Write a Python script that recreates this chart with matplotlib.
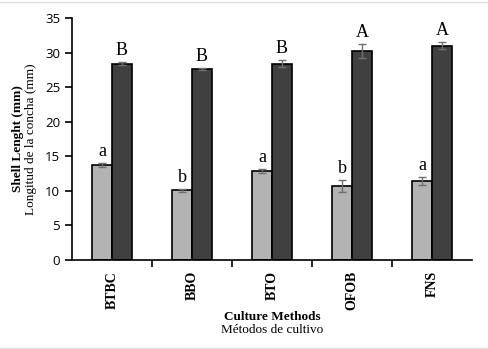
import matplotlib.pyplot as plt
import numpy as np
from matplotlib.lines import Line2D

# datos
methods = ['BTBC', 'BBO', 'BTO', 'OFOB', 'FNS']
light_vals = [13.8, 10.1, 12.9, 10.7, 11.4]
light_err = [0.3, 0.2, 0.3, 0.9, 0.6]
dark_vals = [28.4, 27.6, 28.4, 30.2, 31.0]
dark_err = [0.2, 0.15, 0.5, 1.0, 0.5]
light_letters = ['a', 'b', 'a', 'b', 'a']
dark_letters = ['B', 'B', 'B', 'A', 'A']

serif = 'Liberation Serif'
sans = 'Open Sans'

fig = plt.figure(figsize=(4.88, 3.49), dpi=100)
ax = fig.add_axes([72/488, 1 - 260/349, 400/488, 242/349])

x = np.arange(len(methods))
w = 0.25
ax.bar(x - w/2, light_vals, w, color='#b3b3b3', edgecolor='black', linewidth=1.2)
ax.bar(x + w/2, dark_vals, w, color='#404040', edgecolor='black', linewidth=1.2)
ax.errorbar(x - w/2, light_vals, yerr=light_err, fmt='none', ecolor='#707070',
            elinewidth=1, capsize=3, capthick=1)
ax.errorbar(x + w/2, dark_vals, yerr=dark_err, fmt='none', ecolor='#707070',
            elinewidth=1, capsize=3, capthick=1)

# letras
for i in range(len(methods)):
    ax.annotate(light_letters[i], (x[i] - w/2, light_vals[i] + light_err[i]),
                xytext=(0, 2), textcoords='offset points', ha='center', va='bottom',
                fontsize=13, family=serif)
    ax.annotate(dark_letters[i], (x[i] + w/2, dark_vals[i] + dark_err[i]),
                xytext=(0, 2), textcoords='offset points', ha='center', va='bottom',
                fontsize=13, family=serif)

ax.set_xlim(-0.5, len(methods) - 0.5)
ax.set_ylim(0, 35)
ax.set_yticks(range(0, 36, 5))
ax.set_xticks(x)
ax.set_xticklabels(methods, rotation=90, fontsize=10, family=serif, fontweight='bold')
ax.set_xticks(np.arange(0.5, len(methods) - 0.5, 1), minor=True)
ax.tick_params(axis='x', which='major', length=0, pad=8)
ax.tick_params(axis='x', which='minor', length=5, width=1.2, direction='out')
ax.tick_params(axis='y', length=5, width=1.2, direction='out', labelsize=9.5)
for lab in ax.get_yticklabels():
    lab.set_family(sans)
ax.spines['top'].set_visible(False)
ax.spines['right'].set_visible(False)
ax.spines['left'].set_linewidth(1.2)
ax.spines['bottom'].set_linewidth(1.2)

# titulos de ejes
fig.text(18/488, 1 - 139/349, 'Shell Lenght (mm)', rotation=90, ha='center', va='center',
         fontsize=9.5, family=serif, fontweight='bold')
fig.text(31/488, 1 - 139/349, 'Longitud de la concha (mm)', rotation=90, ha='center',
         va='center', fontsize=9.5, family=serif)
fig.text(272/488, 1 - 317/349, 'Culture Methods', ha='center', va='center',
         fontsize=9.5, family=serif, fontweight='bold')
fig.text(272/488, 1 - 330/349, 'Métodos de cultivo', ha='center', va='center',
         fontsize=9.5, family=serif)

# bordes grises
fig.add_artist(Line2D([0, 1], [1 - 1.5/349, 1 - 1.5/349], color='#e0e0e0', lw=1))
fig.add_artist(Line2D([0, 1], [1 - 347.5/349, 1 - 347.5/349], color='#e0e0e0', lw=1))

fig.savefig('out.png', dpi=100)
